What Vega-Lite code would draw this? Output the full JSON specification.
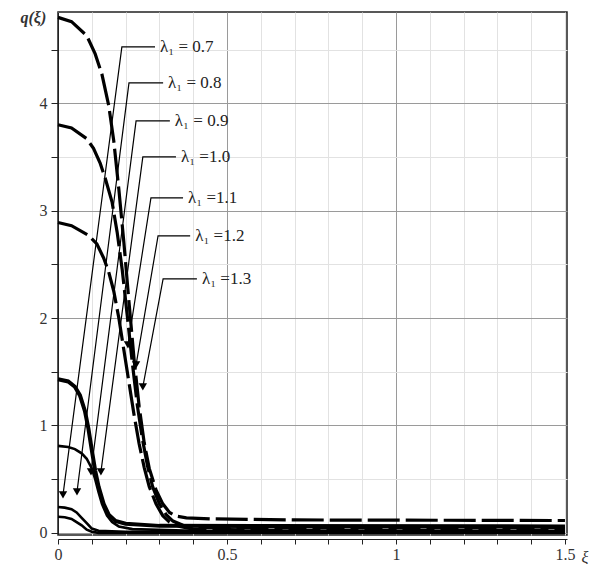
{
  "$schema": "https://vega.github.io/schema/vega-lite/v6.json",
  "width": 509,
  "height": 523,
  "autosize": {"type": "none"},
  "padding": {"left": 58, "top": 12, "right": 24, "bottom": 29},
  "background": "white",
  "config": {"view": {"stroke": "#222", "strokeWidth": 1.5}, "font": "Liberation Serif"},
  "datasets": {
    "curves": [
      {"c":"c1","x":0,"y":4.80},{"c":"c1","x":0.04,"y":4.76},{"c":"c1","x":0.085,"y":4.63},{"c":"c1","x":0.11,"y":4.46},{"c":"c1","x":0.13,"y":4.27},{"c":"c1","x":0.15,"y":3.98},{"c":"c1","x":0.165,"y":3.65},{"c":"c1","x":0.18,"y":3.2},{"c":"c1","x":0.195,"y":2.7},{"c":"c1","x":0.21,"y":2.15},{"c":"c1","x":0.225,"y":1.62},{"c":"c1","x":0.24,"y":1.18},{"c":"c1","x":0.255,"y":0.84},{"c":"c1","x":0.27,"y":0.6},{"c":"c1","x":0.29,"y":0.4},{"c":"c1","x":0.31,"y":0.27},{"c":"c1","x":0.33,"y":0.19},{"c":"c1","x":0.35,"y":0.155},{"c":"c1","x":0.38,"y":0.14},{"c":"c1","x":0.45,"y":0.13},{"c":"c1","x":0.7,"y":0.12},{"c":"c1","x":1.5,"y":0.115},
      {"c":"c2","x":0,"y":3.8},{"c":"c2","x":0.04,"y":3.77},{"c":"c2","x":0.085,"y":3.67},{"c":"c2","x":0.105,"y":3.58},{"c":"c2","x":0.125,"y":3.44},{"c":"c2","x":0.14,"y":3.3},{"c":"c2","x":0.16,"y":3.08},{"c":"c2","x":0.175,"y":2.8},{"c":"c2","x":0.19,"y":2.45},{"c":"c2","x":0.205,"y":2.02},{"c":"c2","x":0.22,"y":1.58},{"c":"c2","x":0.235,"y":1.18},{"c":"c2","x":0.25,"y":0.87},{"c":"c2","x":0.265,"y":0.62},{"c":"c2","x":0.28,"y":0.43},{"c":"c2","x":0.3,"y":0.27},{"c":"c2","x":0.32,"y":0.17},{"c":"c2","x":0.34,"y":0.11},{"c":"c2","x":0.37,"y":0.07},{"c":"c2","x":0.42,"y":0.05},{"c":"c2","x":0.6,"y":0.045},{"c":"c2","x":1.5,"y":0.045},
      {"c":"c3","x":0,"y":2.89},{"c":"c3","x":0.04,"y":2.86},{"c":"c3","x":0.09,"y":2.77},{"c":"c3","x":0.115,"y":2.69},{"c":"c3","x":0.135,"y":2.56},{"c":"c3","x":0.15,"y":2.43},{"c":"c3","x":0.165,"y":2.25},{"c":"c3","x":0.18,"y":2.0},{"c":"c3","x":0.195,"y":1.7},{"c":"c3","x":0.21,"y":1.4},{"c":"c3","x":0.225,"y":1.1},{"c":"c3","x":0.24,"y":0.83},{"c":"c3","x":0.255,"y":0.61},{"c":"c3","x":0.27,"y":0.43},{"c":"c3","x":0.29,"y":0.27},{"c":"c3","x":0.31,"y":0.16},{"c":"c3","x":0.33,"y":0.1},{"c":"c3","x":0.36,"y":0.06},{"c":"c3","x":0.4,"y":0.035},{"c":"c3","x":0.6,"y":0.025},{"c":"c3","x":1.5,"y":0.025},
      {"c":"c4","x":0,"y":1.43},{"c":"c4","x":0.03,"y":1.41},{"c":"c4","x":0.05,"y":1.36},{"c":"c4","x":0.065,"y":1.28},{"c":"c4","x":0.08,"y":1.13},{"c":"c4","x":0.09,"y":0.97},{"c":"c4","x":0.1,"y":0.77},{"c":"c4","x":0.11,"y":0.58},{"c":"c4","x":0.12,"y":0.43},{"c":"c4","x":0.135,"y":0.27},{"c":"c4","x":0.15,"y":0.17},{"c":"c4","x":0.17,"y":0.11},{"c":"c4","x":0.2,"y":0.085},{"c":"c4","x":0.3,"y":0.065},{"c":"c4","x":1.5,"y":0.06},
      {"c":"c5","x":0,"y":0.81},{"c":"c5","x":0.03,"y":0.8},{"c":"c5","x":0.05,"y":0.78},{"c":"c5","x":0.07,"y":0.74},{"c":"c5","x":0.085,"y":0.69},{"c":"c5","x":0.1,"y":0.6},{"c":"c5","x":0.11,"y":0.5},{"c":"c5","x":0.12,"y":0.38},{"c":"c5","x":0.13,"y":0.27},{"c":"c5","x":0.145,"y":0.16},{"c":"c5","x":0.16,"y":0.1},{"c":"c5","x":0.18,"y":0.06},{"c":"c5","x":0.22,"y":0.035},{"c":"c5","x":0.4,"y":0.02},{"c":"c5","x":1.5,"y":0.015},
      {"c":"c6","x":0,"y":0.24},{"c":"c6","x":0.02,"y":0.235},{"c":"c6","x":0.04,"y":0.22},{"c":"c6","x":0.055,"y":0.19},{"c":"c6","x":0.07,"y":0.14},{"c":"c6","x":0.085,"y":0.09},{"c":"c6","x":0.1,"y":0.04},{"c":"c6","x":0.12,"y":0.02},{"c":"c6","x":0.2,"y":0.01},{"c":"c6","x":1.5,"y":0.01},
      {"c":"c7","x":0,"y":0.15},{"c":"c7","x":0.02,"y":0.145},{"c":"c7","x":0.04,"y":0.13},{"c":"c7","x":0.055,"y":0.1},{"c":"c7","x":0.07,"y":0.07},{"c":"c7","x":0.085,"y":0.03},{"c":"c7","x":0.1,"y":0.01},{"c":"c7","x":0.12,"y":0.0},{"c":"c7","x":1.5,"y":0.0}
    ],
    "leaders": [
      {"lab":"0.7","i":0,"x":0.287,"y":4.525},{"lab":"0.7","i":1,"x":0.189,"y":4.525},{"lab":"0.7","i":2,"x":0.0148,"y":0.354},
      {"lab":"0.8","i":0,"x":0.311,"y":4.19},{"lab":"0.8","i":1,"x":0.210,"y":4.19},{"lab":"0.8","i":2,"x":0.0562,"y":0.382},
      {"lab":"0.9","i":0,"x":0.331,"y":3.836},{"lab":"0.9","i":1,"x":0.231,"y":3.836},{"lab":"0.9","i":2,"x":0.0976,"y":0.568},
      {"lab":"1.0","i":0,"x":0.349,"y":3.501},{"lab":"1.0","i":1,"x":0.251,"y":3.501},{"lab":"1.0","i":2,"x":0.127,"y":0.568},
      {"lab":"1.1","i":0,"x":0.370,"y":3.119},{"lab":"1.1","i":1,"x":0.275,"y":3.119},{"lab":"1.1","i":2,"x":0.207,"y":1.75},
      {"lab":"1.2","i":0,"x":0.391,"y":2.765},{"lab":"1.2","i":1,"x":0.296,"y":2.765},{"lab":"1.2","i":2,"x":0.231,"y":1.564},
      {"lab":"1.3","i":0,"x":0.411,"y":2.365},{"lab":"1.3","i":1,"x":0.311,"y":2.365},{"lab":"1.3","i":2,"x":0.251,"y":1.359}
    ],
    "arrows": [
      {"x":0.0148,"y":0.354},{"x":0.0562,"y":0.382},{"x":0.0976,"y":0.568},{"x":0.127,"y":0.568},{"x":0.207,"y":1.75},{"x":0.231,"y":1.564},{"x":0.251,"y":1.359}
    ],
    "labels": [
      {"t":"λ₁ = 0.7","x":0.287,"y":4.525},
      {"t":"λ₁ = 0.8","x":0.311,"y":4.19},
      {"t":"λ₁ = 0.9","x":0.331,"y":3.836},
      {"t":"λ₁ =1.0","x":0.349,"y":3.501},
      {"t":"λ₁ =1.1","x":0.370,"y":3.119},
      {"t":"λ₁ =1.2","x":0.391,"y":2.765},
      {"t":"λ₁ =1.3","x":0.411,"y":2.365}
    ]
  },
  "encoding": {
    "x": {
      "field": "x", "type": "quantitative",
      "scale": {"domain": [0, 1.506], "nice": false, "zero": false},
      "axis": {
        "values": [0,0.1,0.2,0.3,0.4,0.5,0.6,0.7,0.8,0.9,1,1.1,1.2,1.3,1.4,1.5],
        "labelExpr": "indexof(['0','0.5','1','1.5'], ''+datum.value) >= 0 ? ''+datum.value : ''",
        "title": "ξ", "titleX": 523, "titleY": 18, "titleAlign": "left", "titleBaseline": "middle",
        "titleFont": "Liberation Serif", "titleFontStyle": "italic", "titleFontSize": 16, "titleFontWeight": "normal", "titleColor": "#333",
        "offset": 4, "tickSize": 5, "tickColor": "#222", "domainColor": "#222",
        "labelFont": "Liberation Serif", "labelFontSize": 16, "labelColor": "#333", "labelPadding": 2,
        "labelFlush": false, "labelOverlap": false,
        "grid": true,
        "gridColor": {"condition": {"test": "indexof(['0.5','1'], ''+datum.value) >= 0", "value": "#9a9a9a"}, "value": "#e2e2e2"}
      }
    },
    "y": {
      "field": "y", "type": "quantitative",
      "scale": {"domain": [-0.02, 4.85], "nice": false, "zero": false},
      "axis": {
        "values": [0,0.5,1,1.5,2,2.5,3,3.5,4,4.5],
        "labelExpr": "datum.value % 1 === 0 ? ''+datum.value : ''",
        "title": "q(ξ)", "titleAngle": 0, "titleX": -38, "titleY": 5, "titleAlign": "left", "titleBaseline": "middle",
        "titleFont": "Liberation Serif", "titleFontStyle": "italic", "titleFontSize": 16, "titleFontWeight": "bold", "titleColor": "#333",
        "tickSize": 7, "tickColor": "#222", "domainColor": "#222",
        "labelFont": "Liberation Serif", "labelFontSize": 16, "labelColor": "#333", "labelPadding": 4,
        "labelOverlap": false,
        "grid": true,
        "gridColor": {"condition": {"test": "datum.value % 1 === 0", "value": "#9a9a9a"}, "value": "#e2e2e2"}
      }
    }
  },
  "layer": [
    {
      "data": {"name": "curves"},
      "transform": [{"filter": {"field": "c", "oneOf": ["c1", "c2", "c3"]}}],
      "mark": {"type": "line", "color": "black", "strokeWidth": 3.2, "strokeDash": [32, 6], "strokeCap": "butt"},
      "encoding": {"detail": {"field": "c"}}
    },
    {
      "data": {"name": "curves"},
      "transform": [{"filter": {"field": "c", "oneOf": ["c4"]}}],
      "mark": {"type": "line", "color": "black", "strokeWidth": 4},
      "encoding": {"detail": {"field": "c"}}
    },
    {
      "data": {"name": "curves"},
      "transform": [{"filter": {"field": "c", "oneOf": ["c5", "c6", "c7"]}}],
      "mark": {"type": "line", "color": "black", "strokeWidth": 2.6},
      "encoding": {"detail": {"field": "c"}}
    },
    {
      "data": {"name": "leaders"},
      "mark": {"type": "line", "color": "black", "strokeWidth": 1.2},
      "encoding": {"detail": {"field": "lab"}, "order": {"field": "i", "type": "quantitative"}}
    },
    {
      "data": {"name": "arrows"},
      "mark": {"type": "point", "shape": "triangle-down", "filled": true, "color": "black", "size": 70, "opacity": 1},
      "encoding": {}
    },
    {
      "data": {"name": "labels"},
      "mark": {"type": "text", "align": "left", "baseline": "middle", "dx": 5, "font": "Liberation Serif", "fontSize": 17, "color": "#222"},
      "encoding": {"text": {"field": "t"}}
    }
  ]
}
